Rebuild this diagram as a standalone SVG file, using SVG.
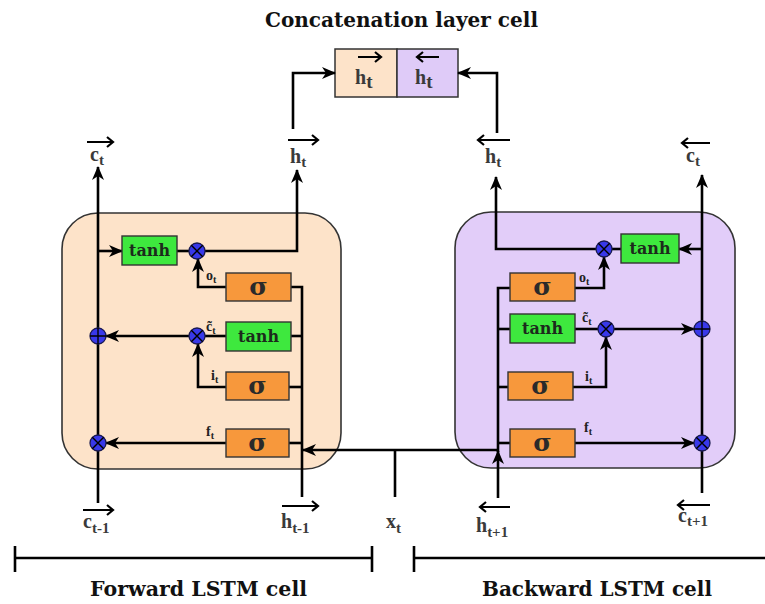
<svg xmlns="http://www.w3.org/2000/svg" width="765" height="604" viewBox="0 0 765 604">
<defs>
<marker id="ah" markerUnits="userSpaceOnUse" markerWidth="14" markerHeight="12" refX="13" refY="6" orient="auto">
<path d="M0,0 L14,6 L0,12 L4,6 Z" fill="#000"/>
</marker>
<style>
.ln{fill:none;stroke:#000;stroke-width:2.6}
.vec{fill:none;stroke:#000;stroke-width:2.2}
.cellF{fill:#fde3c9;stroke:#333;stroke-width:1.6}
.cellB{fill:#e2cdf9;stroke:#333;stroke-width:1.6}
.sig{fill:#f7983c;stroke:#333;stroke-width:1.4}
.tanh{fill:#3ee83e;stroke:#333;stroke-width:1.4}
.op{fill:#3838ea;stroke:#1a1a50;stroke-width:1.3}
.opl{stroke:#000;stroke-width:1.4}
.tt{font-family:"DejaVu Serif","Liberation Serif",serif;font-weight:bold;font-size:16px;fill:#1c2a1c;text-anchor:middle}
.st{font-family:"DejaVu Serif","Liberation Serif",serif;font-weight:bold;font-size:25px;fill:#2a2a2a;text-anchor:middle}
.lb{font-family:"Liberation Serif",serif;font-weight:bold;font-size:20px;fill:#3a3a3a}
.sb{font-size:15px}
.gl{font-family:"Liberation Serif",serif;font-weight:bold;font-size:14px;fill:#222}
.gs{font-size:10px}
.hd{font-family:"DejaVu Serif","Liberation Serif",serif;font-weight:bold;font-size:20px;fill:#111}
</style>
</defs>
<rect width="765" height="604" fill="#fff"/>

<g id="title"><text class="hd" x="265" y="27" textLength="273" lengthAdjust="spacingAndGlyphs">Concatenation layer cell</text></g>

<g id="forward-cell"><rect class="cellF" x="62" y="213" width="279" height="256" rx="36"/></g>
<g id="backward-cell"><rect class="cellB" x="455" y="212" width="280" height="256" rx="36"/></g>

<g id="concat">
<rect x="335" y="49" width="62" height="48" fill="#fde3c9" stroke="#333" stroke-width="1.5"/>
<rect x="397" y="49" width="61" height="48" fill="#dfcbf8" stroke="#333" stroke-width="1.5"/>
<text class="lb" x="355" y="84" font-size="26">h<tspan font-size="19" dy="4">t</tspan></text>
<path class="vec" d="M358,57 L381,57 M375,52 L381,57 L375,62"/>
<text class="lb" x="415" y="84" font-size="26">h<tspan font-size="19" dy="4">t</tspan></text>
<path class="vec" d="M417,57 L439,57 M423,52 L417,57 L423,62"/>
</g>

<g id="connectors">
<path class="ln" d="M98,503 L98,167" marker-end="url(#ah)"/>
<path class="ln" d="M98,251 L122,251" marker-end="url(#ah)"/>
<path class="ln" d="M177,251 L189,251"/>
<path class="ln" d="M205,251 L297,251 L297,170" marker-end="url(#ah)"/>
<path class="ln" d="M226,287 L198,287 L198,259" marker-end="url(#ah)"/>
<path class="ln" d="M291,287 L302,287 L302,497"/>
<path class="ln" d="M291,336 L302,336"/>
<path class="ln" d="M226,336 L205,336"/>
<path class="ln" d="M189,336 L106,336" marker-end="url(#ah)"/>
<path class="ln" d="M226,387 L198,387 L198,344" marker-end="url(#ah)"/>
<path class="ln" d="M289,387 L302,387"/>
<path class="ln" d="M226,443 L106,443" marker-end="url(#ah)"/>
<path class="ln" d="M289,443 L302,443"/>
<path class="ln" d="M498,450 L303,450" marker-end="url(#ah)"/>
<path class="ln" d="M395,497 L395,450"/>
<path class="ln" d="M702,493 L702,175" marker-end="url(#ah)"/>
<path class="ln" d="M702,249 L679,249" marker-end="url(#ah)"/>
<path class="ln" d="M621,249 L612,249"/>
<path class="ln" d="M596,249 L496,249 L496,177" marker-end="url(#ah)"/>
<path class="ln" d="M498,498 L498,451" marker-end="url(#ah)"/>
<path class="ln" d="M498,452 L498,288 L510,288"/>
<path class="ln" d="M575,288 L604,288 L604,257" marker-end="url(#ah)"/>
<path class="ln" d="M498,329 L510,329"/>
<path class="ln" d="M575,329 L598,329"/>
<path class="ln" d="M614,329 L694,329" marker-end="url(#ah)"/>
<path class="ln" d="M498,387 L508,387"/>
<path class="ln" d="M573,387 L606,387 L606,337" marker-end="url(#ah)"/>
<path class="ln" d="M498,443 L510,443"/>
<path class="ln" d="M575,443 L694,443" marker-end="url(#ah)"/>
<path class="ln" d="M293,129 L293,73 L335,73" marker-end="url(#ah)"/>
<path class="ln" d="M497,133 L497,73 L458,73" marker-end="url(#ah)"/>
</g>

<g id="f-tanh-out"><rect class="tanh" x="122" y="236" width="55" height="29"/><text class="tt" x="149.5" y="256">tanh</text></g>
<g id="f-sigma-o"><rect class="sig" x="226" y="273" width="65" height="28"/><text class="st" x="258.5" y="295">σ</text></g>
<g id="f-tanh-c"><rect class="tanh" x="226" y="322" width="65" height="29"/><text class="tt" x="258.5" y="342">tanh</text></g>
<g id="f-sigma-i"><rect class="sig" x="226" y="372" width="63" height="28"/><text class="st" x="257.5" y="394">σ</text></g>
<g id="f-sigma-f"><rect class="sig" x="226" y="429" width="63" height="28"/><text class="st" x="257.5" y="451">σ</text></g>

<g id="b-tanh-out"><rect class="tanh" x="621" y="234" width="58" height="29"/><text class="tt" x="650" y="254">tanh</text></g>
<g id="b-sigma-o"><rect class="sig" x="510" y="273" width="65" height="28"/><text class="st" x="542.5" y="295">σ</text></g>
<g id="b-tanh-c"><rect class="tanh" x="510" y="314" width="65" height="29"/><text class="tt" x="542.5" y="334">tanh</text></g>
<g id="b-sigma-i"><rect class="sig" x="508" y="372" width="65" height="28"/><text class="st" x="540.5" y="394">σ</text></g>
<g id="b-sigma-f"><rect class="sig" x="510" y="429" width="65" height="28"/><text class="st" x="542.5" y="451">σ</text></g>

<g id="f-mul-o"><circle class="op" cx="197" cy="251" r="8"/><path class="opl" d="M191.3,245.3 L202.7,256.7 M202.7,245.3 L191.3,256.7"/></g>
<g id="f-mul-c"><circle class="op" cx="197" cy="336" r="8"/><path class="opl" d="M191.3,330.3 L202.7,341.7 M202.7,330.3 L191.3,341.7"/></g>
<g id="f-add"><circle class="op" cx="98" cy="336" r="8"/><path class="opl" d="M90,336 L106,336 M98,328 L98,344"/></g>
<g id="f-mul-f"><circle class="op" cx="98" cy="443" r="8"/><path class="opl" d="M92.3,437.3 L103.7,448.7 M103.7,437.3 L92.3,448.7"/></g>
<g id="b-mul-o"><circle class="op" cx="604" cy="249" r="8"/><path class="opl" d="M598.3,243.3 L609.7,254.7 M609.7,243.3 L598.3,254.7"/></g>
<g id="b-mul-c"><circle class="op" cx="606" cy="329" r="8"/><path class="opl" d="M600.3,323.3 L611.7,334.7 M611.7,323.3 L600.3,334.7"/></g>
<g id="b-add"><circle class="op" cx="702" cy="329" r="8"/><path class="opl" d="M694,329 L710,329 M702,321 L702,337"/></g>
<g id="b-mul-f"><circle class="op" cx="702" cy="443" r="8"/><path class="opl" d="M696.3,437.3 L707.7,448.7 M707.7,437.3 L696.3,448.7"/></g>

<g id="gate-labels">
<text class="gl" x="206" y="280">o<tspan class="gs" dy="3">t</tspan></text>
<text class="gl" x="206" y="331">c&#771;<tspan class="gs" dy="3">t</tspan></text>
<text class="gl" x="211" y="380">i<tspan class="gs" dy="3">t</tspan></text>
<text class="gl" x="206" y="436">f<tspan class="gs" dy="3">t</tspan></text>
<text class="gl" x="579" y="282">o<tspan class="gs" dy="3">t</tspan></text>
<text class="gl" x="582" y="322">c&#771;<tspan class="gs" dy="3">t</tspan></text>
<text class="gl" x="585" y="381">i<tspan class="gs" dy="3">t</tspan></text>
<text class="gl" x="584" y="432">f<tspan class="gs" dy="3">t</tspan></text>
</g>

<g id="io-labels">
<text class="lb" x="90" y="161">c<tspan class="sb" dy="4">t</tspan></text>
<path class="vec" d="M87,142 L113,142 M107,137 L113,142 L107,147"/>
<text class="lb" x="290" y="163">h<tspan class="sb" dy="4">t</tspan></text>
<path class="vec" d="M288,140 L318,140 M312,135 L318,140 L312,145"/>
<text class="lb" x="485" y="163">h<tspan class="sb" dy="4">t</tspan></text>
<path class="vec" d="M478,140 L510,140 M484,135 L478,140 L484,145"/>
<text class="lb" x="686" y="162">c<tspan class="sb" dy="4">t</tspan></text>
<path class="vec" d="M682,143 L710,143 M688,138 L682,143 L688,148"/>

<text class="lb" x="83" y="528" font-size="21">c<tspan class="sb" font-size="15" dy="5">t-1</tspan></text>
<path class="vec" d="M83,510 L113,510 M107,505 L113,510 L107,515"/>
<text class="lb" x="281" y="528" font-size="21">h<tspan class="sb" font-size="15" dy="5">t-1</tspan></text>
<path class="vec" d="M282,506 L318,506 M312,501 L318,506 L312,511"/>
<text class="lb" x="386" y="528" font-size="21">x<tspan class="sb" font-size="15" dy="5">t</tspan></text>
<text class="lb" x="476" y="532" font-size="21">h<tspan class="sb" font-size="15" dy="5">t+1</tspan></text>
<path class="vec" d="M480,507 L510,507 M486,502 L480,507 L486,512"/>
<text class="lb" x="678" y="522" font-size="20">c<tspan class="sb" font-size="15" dy="4">t+1</tspan></text>
<path class="vec" d="M678,505 L710,505 M684,500 L678,505 L684,510"/>
</g>

<g id="brackets">
<path class="ln" d="M15,546 L15,572 M15,558 L372,558 M372,546 L372,572"/>
<path class="ln" d="M414,546 L414,572 M414,558 L765,558"/>
<text class="hd" x="90" y="596" font-size="21" textLength="217" lengthAdjust="spacingAndGlyphs">Forward LSTM cell</text>
<text class="hd" x="482" y="596" font-size="21" textLength="230" lengthAdjust="spacingAndGlyphs">Backward LSTM cell</text>
</g>
</svg>
